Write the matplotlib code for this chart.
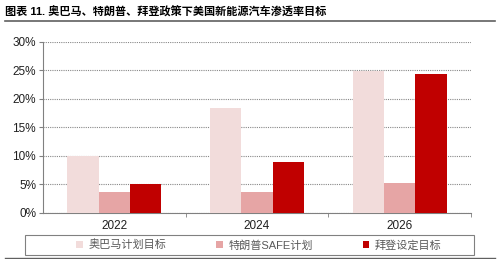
import matplotlib
matplotlib.use("Agg")
import matplotlib.pyplot as plt
from matplotlib.lines import Line2D
from matplotlib.patches import Rectangle
import numpy as np

plt.rcParams['font.family'] = ['Liberation Sans', 'Noto Sans CJK SC', 'DejaVu Sans']

title = "图表 11. 奥巴马、特朗普、拜登政策下美国新能源汽车渗透率目标"
years = ["2022", "2024", "2026"]
series_names = ["奥巴马计划目标", "特朗普SAFE计划", "拜登设定目标"]
obama = [10.0, 18.4, 24.9]
trump = [3.6, 3.7, 5.2]
biden = [5.0, 9.0, 24.4]
colors = ["#F2DCDB", "#E6A5A5", "#C00000"]

fig = plt.figure(figsize=(5, 2.59), dpi=100)
ax = fig.add_axes([0.086, 0.178, 0.856, 0.66])

x = np.arange(len(years))
w = 0.22
for i, (vals, c, name) in enumerate(zip([obama, trump, biden], colors, series_names)):
    ax.bar(x + (i - 1) * w, vals, w, color=c, label=name, zorder=3)

ax.set_xlim(-0.5, 2.5)
ax.set_ylim(0, 30)
ax.set_yticks(range(0, 31, 5))
ax.set_yticklabels([f"{v}%" for v in range(0, 31, 5)], fontsize=8.5, color='#202020')
ax.set_xticks(x)
ax.set_xticklabels(years, fontsize=8.5, color='#202020')
ax.tick_params(axis='x', length=0, pad=5)
ax.set_xticks([0.5, 1.5, 2.5], minor=True)
ax.tick_params(axis='x', which='minor', length=3, color='#808080')
ax.tick_params(axis='y', length=3, color='#808080', pad=2)
ax.grid(axis='y', linestyle=(0, (1, 1)), color='#888888', linewidth=0.8, zorder=0)
for s in ['top', 'right']:
    ax.spines[s].set_visible(False)
ax.spines['left'].set_color('#808080')
ax.spines['bottom'].set_color('#808080')

handles, labels = ax.get_legend_handles_labels()
leg = fig.legend(handles, labels, loc='center left', bbox_to_anchor=(0.152, 0.054), ncol=3,
                 fontsize=8, frameon=False, handlelength=0.6, handleheight=0.6,
                 columnspacing=4.5, handletextpad=0.5, borderpad=0, borderaxespad=0)
for t in leg.get_texts():
    t.set_color('#595959')
fig.add_artist(Rectangle((0.05, 0.015), 0.898, 0.078, transform=fig.transFigure,
                         fill=False, edgecolor='#808080', linewidth=0.8))

fig.text(0.01, 0.955, title, fontsize=8, fontweight='bold', va='center', ha='left')
fig.add_artist(Line2D([0.01, 0.99], [0.919, 0.919], color='#606060', linewidth=1.2))
fig.add_artist(Line2D([0.01, 0.99], [0.004, 0.004], color='#606060', linewidth=1.0))

fig.savefig("out.png", dpi=100)
